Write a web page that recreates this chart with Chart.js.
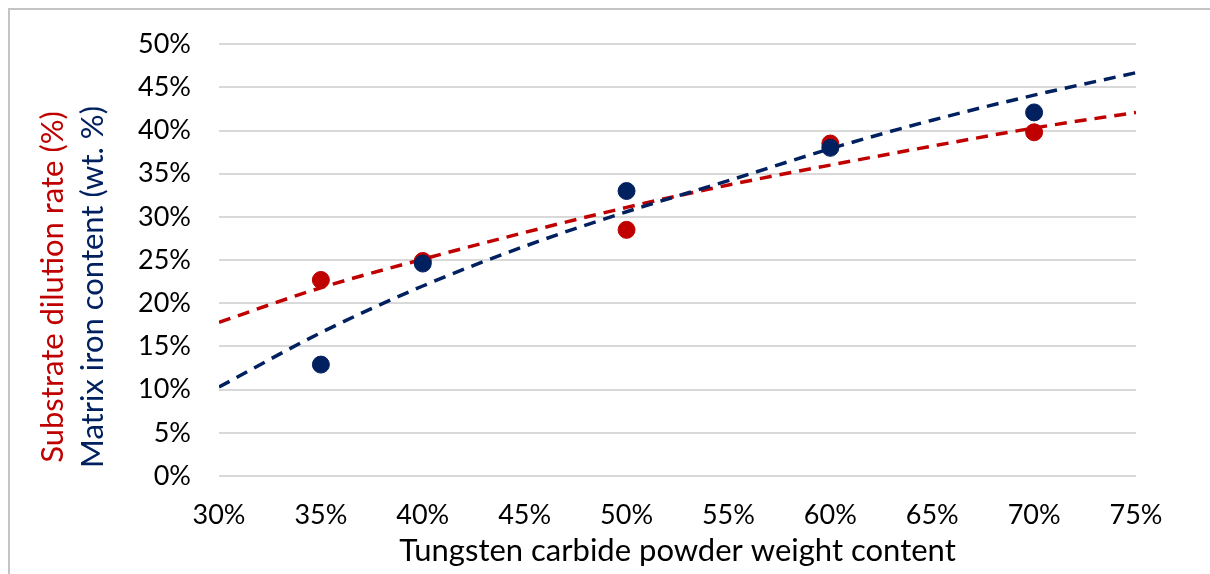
<!DOCTYPE html>
<html>
<head>
<meta charset="utf-8">
<script src="https://cdn.jsdelivr.net/npm/chart.js@4"></script>
<style>
  html, body { margin: 0; padding: 0; background: #fff; overflow: hidden; }
  #wrap { position: relative; width: 1210px; height: 574px; }
  #frame { position: absolute; left: 8px; top: 8px; width: 1400px; height: 800px;
           border: 2px solid #c4c4c4; pointer-events: none; }
</style>
</head>
<body>
<div id="wrap">
  <canvas id="myChart" width="1210" height="574"></canvas>
  <div id="frame"></div>
</div>
<script>
// measured points (WC powder wt.% vs value %)
const wcContent = [35, 40, 50, 60, 70];
const dilutionRate = [22.7, 24.9, 28.5, 38.5, 39.8];
const ironContent = [12.9, 24.6, 33.0, 38.0, 42.1];

// trend lines
const trendX = [30, 35, 40, 45, 50, 55, 60, 65, 70, 75];
const dilutionTrend = [17.8, 21.8, 25.1, 28.2, 31.1, 33.7, 36.0, 38.2, 40.3, 42.1];
const ironTrend = [10.3, 16.6, 22.0, 26.6, 30.6, 34.2, 37.9, 41.2, 44.1, 46.7];

const xTicks = [30, 35, 40, 45, 50, 55, 60, 65, 70, 75];
const yTicks = [0, 5, 10, 15, 20, 25, 30, 35, 40, 45, 50];

const xTitle = 'Tungsten carbide powder weight content';
const yTitleRed = 'Substrate dilution rate (%)';
const yTitleBlue = 'Matrix iron content (wt. %)';

const RED = '#C00000';
const NAVY = '#002060';
const FONT = 'Lato';

function toXY(xs, ys) {
    return xs.map((x, i) => ({ x: x, y: ys[i] }));
}

// two coloured y titles, rotated
const yTitles = {
    id: 'yTitles',
    afterDraw(chart) {
        const ctx = chart.ctx;
        const midY = 287;
        ctx.save();
        ctx.font = '31px ' + FONT;
        ctx.textAlign = 'center';
        ctx.textBaseline = 'alphabetic';
        [[yTitleRed, RED, 63], [yTitleBlue, NAVY, 103]].forEach(([txt, col, x]) => {
            ctx.save();
            ctx.translate(x, midY);
            ctx.rotate(-Math.PI / 2);
            ctx.fillStyle = col;
            ctx.fillText(txt, 0, 0);
            ctx.restore();
        });
        ctx.restore();
    }
};

const ctx = document.getElementById('myChart').getContext('2d');
const chart = new Chart(ctx, {
    type: 'scatter',
    data: {
        datasets: [{
            label: 'Iron',
            data: toXY(wcContent, ironContent),
            backgroundColor: NAVY,
            borderColor: NAVY,
            pointRadius: 8.5,
            pointHoverRadius: 8.5,
            order: 0
        }, {
            label: 'Dilution',
            data: toXY(wcContent, dilutionRate),
            backgroundColor: RED,
            borderColor: RED,
            pointRadius: 8.5,
            pointHoverRadius: 8.5,
            order: 1
        }, {
            type: 'line',
            label: 'Iron trend',
            data: toXY(trendX, ironTrend),
            borderColor: NAVY,
            borderWidth: 3.5,
            borderDash: [12, 8],
            pointRadius: 0,
            cubicInterpolationMode: 'monotone',
            fill: false,
            order: 2
        }, {
            type: 'line',
            label: 'Dilution trend',
            data: toXY(trendX, dilutionTrend),
            borderColor: RED,
            borderWidth: 3.5,
            borderDash: [12, 8],
            pointRadius: 0,
            cubicInterpolationMode: 'monotone',
            fill: false,
            order: 3
        }]
    },
    options: {
        responsive: false,
        animation: false,
        events: [],
        layout: { padding: { top: 41, right: 74, bottom: 0, left: 0 } },
        plugins: {
            legend: { display: false },
            tooltip: { enabled: false }
        },
        scales: {
            x: {
                type: 'linear',
                min: 30,
                max: 75,
                afterFit: (s) => { s.height = 98; },
                afterBuildTicks: (s) => { s.ticks = xTicks.map(v => ({ value: v })); },
                grid: { display: false, drawTicks: false },
                border: { display: false },
                ticks: {
                    padding: 23,
                    color: '#000',
                    font: { family: FONT, size: 27 },
                    callback: (v) => v + '%'
                },
                title: {
                    display: true,
                    text: xTitle,
                    color: '#000',
                    font: { family: FONT, size: 31 },
                    padding: { top: 0, bottom: 4 }
                }
            },
            y: {
                min: 0,
                max: 50,
                afterFit: (s) => { s.width = 219; },
                afterBuildTicks: (s) => { s.ticks = yTicks.map(v => ({ value: v })); },
                grid: { color: '#d9d9d9', lineWidth: 2, drawTicks: false },
                border: { display: false },
                ticks: {
                    padding: 28,
                    color: '#000',
                    font: { family: FONT, size: 27 },
                    callback: (v) => v + '%'
                }
            }
        }
    },
    plugins: [yTitles]
});
</script>
</body>
</html>
